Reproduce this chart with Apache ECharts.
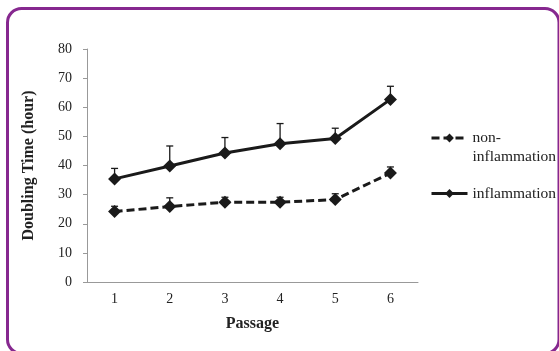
<!DOCTYPE html>
<html>
<head>
<meta charset="utf-8">
<script src="https://cdn.jsdelivr.net/npm/echarts@6/dist/echarts.min.js"></script>
<style>
html,body{margin:0;padding:0;background:#fff;}
#main{width:559px;height:351px;}
</style>
</head>
<body>
<div id="main"></div>
<script>
var categories = ['1', '2', '3', '4', '5', '6'];
var inflammation = [35.4, 39.8, 44.3, 47.5, 49.3, 62.7];
var inflammationUpper = [39.0, 46.7, 49.6, 54.4, 52.8, 67.2];
var nonInflammation = [24.2, 25.9, 27.4, 27.4, 28.3, 37.4];
var nonInflammationUpper = [26.0, 28.9, 29.1, 29.1, 30.3, 39.5];
var yTicks = [0, 10, 20, 30, 40, 50, 60, 70, 80];

var FONT = 'Liberation Serif';
var INK = '#1a1a1a';

function errData(mean, upper) {
  return mean.map(function (m, i) { return [i, m, upper[i]]; });
}
function errRender(params, api) {
  var x = api.value(0);
  var p0 = api.coord([x, api.value(1)]);
  var p1 = api.coord([x, api.value(2)]);
  var hw = 3.5;
  var st = { stroke: INK, lineWidth: 1.3 };
  return {
    type: 'group',
    children: [
      { type: 'line', shape: { x1: p0[0], y1: p0[1], x2: p1[0], y2: p1[1] }, style: st },
      { type: 'line', shape: { x1: p1[0] - hw, y1: p1[1], x2: p1[0] + hw, y2: p1[1] }, style: st }
    ]
  };
}

var chart = echarts.init(document.getElementById('main'), null, { renderer: 'canvas' });
chart.setOption({
  animation: false,
  backgroundColor: '#fff',
  graphic: [{
    type: 'rect',
    shape: { x: 7.5, y: 8.5, width: 551.5, height: 345, r: 14 },
    style: { fill: 'none', stroke: '#86288f', lineWidth: 3 },
    silent: true
  }],
  grid: { left: 87, right: 141, top: 49, bottom: 69 },
  legend: [{
    data: ['non-inflammation'],
    orient: 'vertical',
    left: 430,
    top: 109.5,
    padding: 0,
    itemWidth: 36,
    itemHeight: 11,
    lineStyle: { width: 3 },
    formatter: function () { return ' \nnon-\ninflammation'; },
    textStyle: { fontFamily: FONT, fontSize: 15.5, color: '#222', lineHeight: 19 }
  }, {
    data: ['inflammation'],
    orient: 'vertical',
    left: 430,
    top: 184,
    padding: 0,
    itemWidth: 36,
    itemHeight: 11,
    lineStyle: { width: 3 },
    textStyle: { fontFamily: FONT, fontSize: 15.5, color: '#222', lineHeight: 19 }
  }],
  xAxis: {
    type: 'category',
    data: categories,
    boundaryGap: true,
    name: 'Passage',
    nameLocation: 'middle',
    nameGap: 34,
    nameTextStyle: { fontFamily: FONT, fontSize: 16, fontWeight: 'bold', color: '#222' },
    axisLine: { lineStyle: { color: '#999', width: 1 } },
    axisTick: { show: false },
    axisLabel: { fontFamily: FONT, fontSize: 14, color: '#222', margin: 10 }
  },
  yAxis: {
    type: 'value',
    min: yTicks[0],
    max: yTicks[yTicks.length - 1],
    interval: yTicks[1] - yTicks[0],
    name: 'Doubling Time (hour)',
    nameLocation: 'middle',
    nameGap: 50,
    nameTextStyle: { fontFamily: FONT, fontSize: 16, fontWeight: 'bold', color: '#222' },
    axisLine: { show: true, lineStyle: { color: '#999', width: 1 } },
    axisTick: { show: true, length: 4, lineStyle: { color: '#999' } },
    splitLine: { show: false },
    axisLabel: { fontFamily: FONT, fontSize: 14, color: '#222', margin: 15 }
  },
  series: [{
    name: 'non-inflammation',
    type: 'line',
    data: nonInflammation,
    symbol: 'diamond',
    symbolSize: 13,
    itemStyle: { color: INK },
    lineStyle: { color: INK, width: 3, type: [8, 4] },
    z: 3
  }, {
    name: 'inflammation',
    type: 'line',
    data: inflammation,
    symbol: 'diamond',
    symbolSize: 13,
    itemStyle: { color: INK },
    lineStyle: { color: INK, width: 3 },
    z: 3
  }, {
    name: 'errNon',
    type: 'custom',
    data: errData(nonInflammation, nonInflammationUpper),
    renderItem: errRender,
    z: 2
  }, {
    name: 'errInf',
    type: 'custom',
    data: errData(inflammation, inflammationUpper),
    renderItem: errRender,
    z: 2
  }]
});
</script>
</body>
</html>
